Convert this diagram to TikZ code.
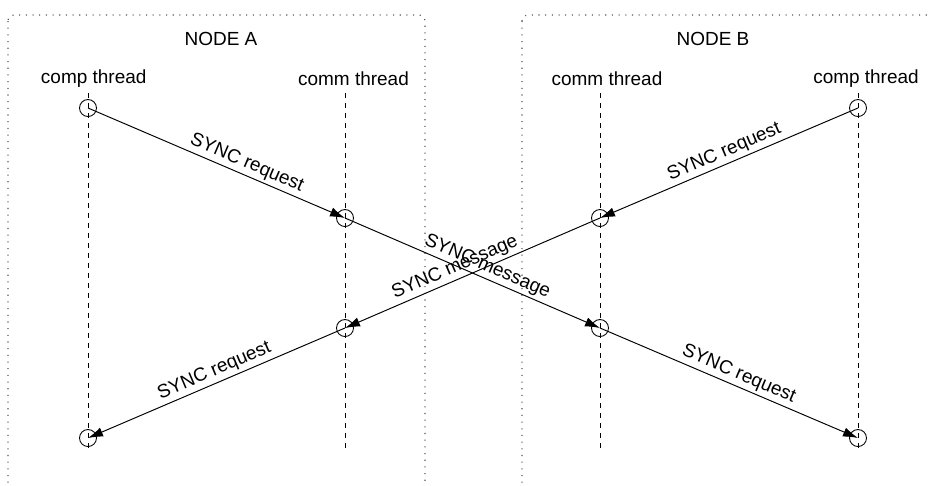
\documentclass[tikz,border=0pt]{standalone}
\usepackage{fontspec}
\setmainfont{Liberation Sans}
\usetikzlibrary{positioning,arrows.meta}
\definecolor{boxline}{HTML}{555555}
\definecolor{ink}{HTML}{000000}
\tikzset{
  evt/.style  = {circle, draw=ink, line width=0.5pt, minimum size=0.34cm, inner sep=0pt},
  lane/.style = {draw=ink, line width=0.5pt, dash pattern=on 0.1cm off 0.1cm},
  msg/.style  = {-{Latex[length=0.3cm,width=0.19cm]}, draw=ink, line width=0.55pt},
  lbl/.style  = {sloped, above, inner sep=1.5pt},
  grp/.style  = {draw=boxline, line width=0.7pt, dash pattern=on 0.6pt off 3.2pt,
                 rounded corners=0.12cm},
  hdr/.style  = {inner sep=0pt},
}
\begin{document}
\begin{tikzpicture}[x=0.02cm, y=-0.02cm, font=\fontsize{10.8}{13}\selectfont]
  \useasboundingbox (0,0) rectangle (931,485);
  % the two nodes
  \draw[grp] (8,15) rectangle (425,489);
  \draw[grp] (522,15) rectangle (945,489);
  \node[hdr] (titA) at (221,39) {NODE A};
  \node[hdr] (titB) at (713,39) {NODE B};
  % thread lanes
  \foreach \n/\x/\lx/\lab in {ap/88/93.7/comp thread, am/345/353.5/comm thread,
                              bm/600/607/comm thread, bp/858/866/comp thread}{
    \node[hdr] (\n lab) at (\lx,79) {\lab};
    \coordinate (\n top) at (\x,93);
    \coordinate (\n bot) at (\x,452);
    \draw[lane] (\n top) -- (\n bot);}
  % events
  \node[evt] (a1) at (88,108) {};
  \node[evt] (a2) at (345,218) {};
  \node[evt] (a3) at (345,328) {};
  \node[evt] (a4) at (88,438) {};
  \node[evt] (b1) at (858,108) {};
  \node[evt] (b2) at (600,218) {};
  \node[evt] (b3) at (600,328) {};
  \node[evt] (b4) at (858,438) {};
  % messages
  \draw[msg] (a1.center) -- node[lbl, pos=0.6] {SYNC request} (a2.center);
  \draw[msg] (b1.center) -- node[lbl, pos=0.5] {SYNC request} (b2.center);
  \draw[msg] (a2.center) -- node[lbl, pos=0.54] {SYNC message} (b3.center);
  \draw[msg] (b2.center) -- node[lbl, pos=0.55] {SYNC message} (a3.center);
  \draw[msg] (a3.center) -- node[lbl, pos=0.49] {SYNC request} (a4.center);
  \draw[msg] (b3.center) -- node[lbl, pos=0.52] {SYNC request} (b4.center);
\end{tikzpicture}
\end{document}
